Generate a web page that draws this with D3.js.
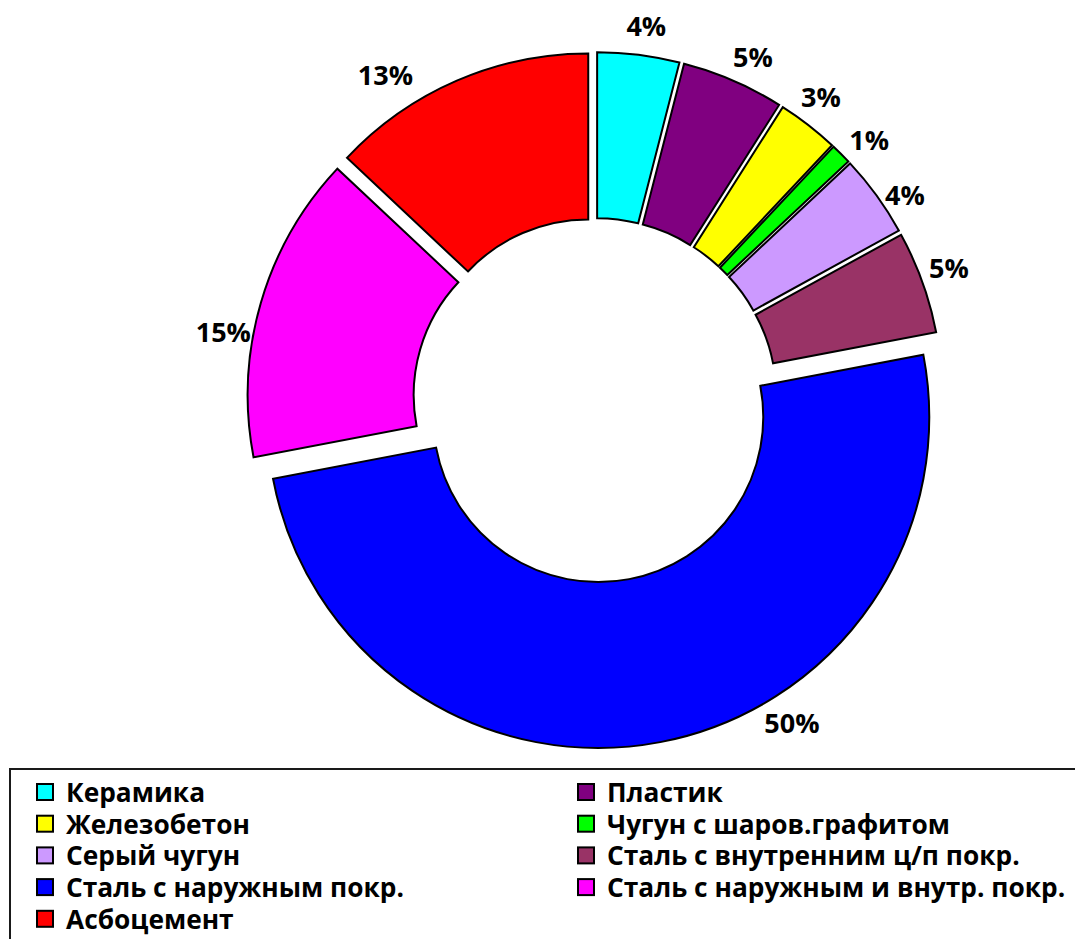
<!DOCTYPE html>
<html>
<head>
<meta charset="utf-8">
<script src="https://cdn.jsdelivr.net/npm/d3@7"></script>
<style>
  html, body { margin: 0; padding: 0; background: #fff; }
  svg { display: block; }
</style>
</head>
<body>
<svg id="chart" width="1075" height="939"></svg>
<script>
// ---- data ----
const categories = [
  "Керамика",
  "Пластик",
  "Железобетон",
  "Чугун с шаров.графитом",
  "Серый чугун",
  "Сталь с внутренним ц/п покр.",
  "Сталь с наружным покр.",
  "Сталь с наружным и внутр. покр.",
  "Асбоцемент"
];
const values = [4, 5, 3, 1, 4, 5, 50, 15, 13];
const labels = ["4%", "5%", "3%", "1%", "4%", "5%", "50%", "15%", "13%"];
const colors = ["#00FFFF", "#800080", "#FFFF00", "#00FF00", "#CC99FF", "#993366", "#0000FF", "#FF00FF", "#FF0000"];

// ---- layout ----
const W = 1075, H = 939;
const cx = 595, cy = 400;
const outerR = 331, innerR = 165;
const explode = 17;
const labelR = 378;
// angular nudges (degrees) for labels moved away from bisector
const labelNudge = {0: 0.6, 1: 1.3, 2: -1.1, 3: 1.5, 4: 2.4, 5: -0.8, 6: -20.6, 7: -5.7, 8: -9.4};
const labelRadiusAdj = {4: -6, 8: 9};

const svg = d3.select("#chart");

const pie = d3.pie().sort(null).value(d => d).startAngle(0).endAngle(2 * Math.PI);
const arcs = pie(values);
const arc = d3.arc().innerRadius(innerR).outerRadius(outerR);

const g = svg.append("g").attr("transform", `translate(${cx},${cy})`);

g.selectAll("path.slice")
  .data(arcs)
  .join("path")
  .attr("class", "slice")
  .attr("d", arc)
  .attr("fill", (d, i) => colors[i])
  .attr("stroke", "#000")
  .attr("stroke-width", 2)
  .attr("stroke-linejoin", "miter")
  .attr("transform", d => {
    const a = (d.startAngle + d.endAngle) / 2;
    return `translate(${explode * Math.sin(a)},${-explode * Math.cos(a)})`;
  });

g.selectAll("text.lbl")
  .data(arcs)
  .join("text")
  .attr("class", "lbl")
  .attr("x", (d, i) => {
    const a = (d.startAngle + d.endAngle) / 2 + (labelNudge[i] || 0) * Math.PI / 180;
    return (labelR + (labelRadiusAdj[i] || 0)) * Math.sin(a);
  })
  .attr("y", (d, i) => {
    const a = (d.startAngle + d.endAngle) / 2 + (labelNudge[i] || 0) * Math.PI / 180;
    return -(labelR + (labelRadiusAdj[i] || 0)) * Math.cos(a);
  })
  .attr("text-anchor", "middle")
  .attr("dominant-baseline", "central")
  .attr("font-family", "'Open Sans', sans-serif")
  .attr("font-weight", "bold")
  .attr("font-size", 27)
  .attr("fill", "#000")
  .text((d, i) => labels[i]);

// ---- legend ----
const legend = svg.append("g");
legend.append("rect")
  .attr("x", 10).attr("y", 769)
  .attr("width", 1100).attr("height", 200)
  .attr("fill", "none")
  .attr("stroke", "#1a1a1a")
  .attr("stroke-width", 2);

const colX = [36, 577];
const rowY0 = 792, rowStep = 31.7;
const items = legend.selectAll("g.item")
  .data(categories)
  .join("g")
  .attr("class", "item")
  .attr("transform", (d, i) => `translate(${colX[i % 2]},${rowY0 + Math.floor(i / 2) * rowStep})`);

items.append("rect")
  .attr("x", 1).attr("y", -8)
  .attr("width", 16).attr("height", 16)
  .attr("fill", (d, i) => colors[i])
  .attr("stroke", "#000")
  .attr("stroke-width", 2);

items.append("text")
  .attr("x", 30)
  .attr("y", 0)
  .attr("dominant-baseline", "central")
  .attr("font-family", "'Open Sans', sans-serif")
  .attr("font-weight", "bold")
  .attr("font-size", 26.3)
  .attr("fill", "#000")
  .text(d => d);
</script>
</body>
</html>
